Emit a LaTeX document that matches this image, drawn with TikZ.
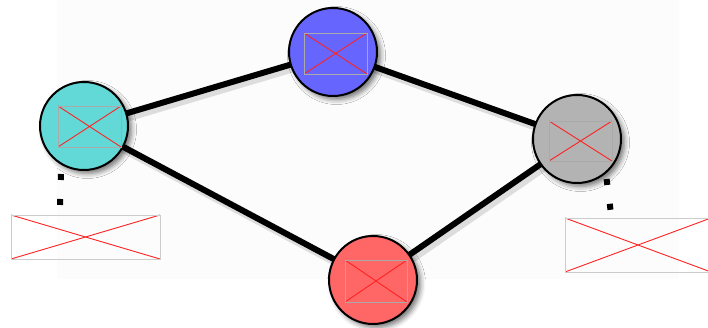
\documentclass[tikz,border=0pt]{standalone}
\usetikzlibrary{shadows.blur}
\definecolor{ncyan}{HTML}{62D9D7}
\definecolor{nblue}{HTML}{6666FF}
\definecolor{ngray}{HTML}{B3B3B3}
\definecolor{nred}{HTML}{FF6666}
\definecolor{bgshade}{HTML}{FCFCFC}
\definecolor{phborder}{HTML}{CCCCCC}
\definecolor{phinner}{HTML}{AAAAAA}
\definecolor{xred}{HTML}{FF2222}
\begin{document}
\begin{tikzpicture}[x=1pt,y=-1pt,
  bignode/.style={circle, draw=black, line width=2pt, minimum size=88pt, inner sep=0pt,
    blur shadow={shadow xshift=3.5pt, shadow yshift=-3.5pt, shadow blur radius=5pt, shadow opacity=55}},
  placeholder/.style={rectangle, draw=#1, line width=0.9pt, inner sep=0pt,
    path picture={\draw[xred, line width=0.9pt]
      (path picture bounding box.north west) -- (path picture bounding box.south east)
      (path picture bounding box.south west) -- (path picture bounding box.north east);}},
  edge line/.style={line width=6pt, black},
  edge shade/.style={line width=9pt, black, opacity=0.12},
  dotline/.style={line width=6pt, dash pattern=on 6pt off 19pt}
]
\useasboundingbox (0,0) rectangle (708,328);
\fill[bgshade] (57,0) rectangle (679,279);

% node positions
\coordinate (pc) at (84,126);
\coordinate (pb) at (333,52);
\coordinate (pg) at (577,139);
\coordinate (pr) at (373,280);

% edge shadows
\foreach \a/\b in {pc/pb, pb/pg, pc/pr, pr/pg}{
  \draw[edge shade] ([shift={(3,3)}]\a) -- ([shift={(3,3)}]\b);
}
% edges
\draw[edge line] (pc) -- (pb);
\draw[edge line] (pb) -- (pg);
\draw[edge line] (pc) -- (pr);
\draw[edge line] (pr) -- (pg);

% circles
\node[bignode, fill=ncyan] (cyan) at (pc) {};
\node[bignode, fill=nblue] (blue) at (pb) {};
\node[bignode, fill=ngray] (gray) at (pg) {};
\node[bignode, fill=nred] (red) at (pr) {};

% inner image placeholders
\node[placeholder=phinner, minimum width=63pt, minimum height=41pt] (imgc) at (89.5,126.5) {};
\node[placeholder=phinner, minimum width=63pt, minimum height=41pt] (imgb) at (335.5,53.5) {};
\node[placeholder=phinner, minimum width=63pt, minimum height=40pt] (imgg) at (580.5,141) {};
\node[placeholder=phinner, minimum width=62pt, minimum height=42pt] (imgr) at (376,281) {};

% outer image placeholders
\node[placeholder=phborder, minimum width=149pt, minimum height=44pt] (boxl) at (85.5,237) {};
\node[placeholder=phborder, minimum width=146pt, minimum height=54pt] (boxr) at (638,245) {};

% dotted connectors
\coordinate (dl1) at (61,174);
\coordinate (dl2) at (60,206);
\coordinate (dr1) at (606.6,179);
\coordinate (dr2) at (610.5,210);
\draw[dotline] (dl1) -- (dl2);
\draw[dotline] (dr1) -- (dr2);
\end{tikzpicture}
\end{document}
